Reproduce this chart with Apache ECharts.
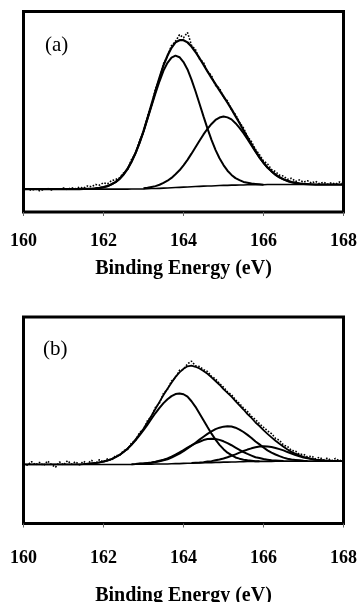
<!DOCTYPE html>
<html><head><meta charset="utf-8">
<script src="https://cdn.jsdelivr.net/npm/echarts@6/dist/echarts.min.js"></script>
<style>html,body{margin:0;padding:0;background:#fff}#c{width:360px;height:602px}</style>
</head><body><div id="c"></div>
<script>
// Binding energy grid (eV)
const energy = [
160.0,160.1,160.2,160.3,160.4,160.5,160.6,160.7,160.8,160.9,
161.0,161.1,161.2,161.3,161.4,161.5,161.6,161.7,161.8,161.9,
162.0,162.1,162.2,162.3,162.4,162.5,162.6,162.7,162.8,162.9,
163.0,163.1,163.2,163.3,163.4,163.5,163.6,163.7,163.8,163.9,
164.0,164.1,164.2,164.3,164.4,164.5,164.6,164.7,164.8,164.9,
165.0,165.1,165.2,165.3,165.4,165.5,165.6,165.7,165.8,165.9,
166.0,166.1,166.2,166.3,166.4,166.5,166.6,166.7,166.8,166.9,
167.0,167.1,167.2,167.3,167.4,167.5,167.6,167.7,167.8,167.9,
168.0];
const xTicks = [160, 162, 164, 166, 168];
const axisTitle = 'Binding Energy (eV)';
const panelLabels = ['(a)', '(b)'];

// ---------- Panel (a) ----------
const bgA = [
11.4,11.4,11.4,11.4,11.4,11.4,11.4,11.4,11.4,11.4,
11.4,11.4,11.4,11.4,11.4,11.4,11.4,11.4,11.4,11.4,
11.4,11.4,11.4,11.4,11.4,11.4,11.4,11.5,11.5,11.5,
11.5,11.6,11.7,11.7,11.8,11.9,12.0,12.1,12.2,12.3,
12.4,12.5,12.6,12.7,12.8,12.9,13.0,13.0,13.1,13.2,
13.3,13.3,13.4,13.4,13.5,13.5,13.6,13.6,13.6,13.6,
13.6,13.7,13.7,13.7,13.7,13.7,13.7,13.7,13.7,13.7,
13.7,13.7,13.7,13.7,13.7,13.7,13.7,13.7,13.7,13.7,
13.7];
const peak1A = [
null,null,null,null,null,null,null,null,null,null,
null,null,null,null,null,null,null,null,11.8,12.0,
12.4,12.9,13.8,14.9,16.5,18.7,21.5,25.1,29.4,34.5,
40.1,46.4,52.9,59.2,65.2,70.5,74.4,77.0,78.0,77.2,
74.8,71.1,66.0,60.2,54.0,47.7,41.6,36.0,31.0,26.8,
23.4,20.6,18.5,16.9,15.9,15.0,14.6,14.2,14.0,13.8,
13.6,null,null,null,null,null,null,null,null,null,
null,null,null,null,null,null,null,null,null,null,
null];
const peak2A = [
null,null,null,null,null,null,null,null,null,null,
null,null,null,null,null,null,null,null,null,null,
null,null,null,null,null,null,null,null,null,null,
11.8,12.1,12.5,12.9,13.6,14.5,15.6,17.0,18.8,20.8,
23.3,26.0,29.1,32.3,35.5,38.7,41.5,43.9,45.9,47.1,
47.6,47.2,46.2,44.3,42.0,39.3,36.3,33.2,30.1,27.1,
24.5,22.2,20.3,18.6,17.3,16.3,15.5,14.9,14.5,14.2,
14.0,null,null,null,null,null,null,null,null,null,
null];
const envA = [
11.4,11.4,11.4,11.4,11.4,11.4,11.4,11.4,11.4,11.4,
11.4,11.4,11.4,11.4,11.4,11.5,11.5,11.6,11.8,12.0,
12.4,12.9,13.8,14.9,16.5,18.7,21.5,25.1,29.4,34.5,
40.4,46.9,53.7,60.4,67.0,73.1,78.0,81.9,84.6,85.7,
85.7,84.6,82.5,79.8,76.7,73.5,70.1,66.9,63.8,60.7,
57.7,54.5,51.3,47.8,44.4,40.8,37.3,33.8,30.5,27.3,
24.6,22.2,20.3,18.6,17.3,16.3,15.5,14.9,14.5,14.2,
14.0,13.9,13.8,13.7,13.7,13.7,13.7,13.7,13.7,13.7,
13.7];
const dataA = [
11.0,11.6,10.8,11.5,10.6,11.2,11.8,11.0,11.7,11.3,
12.0,11.2,12.1,11.6,12.4,11.9,13.0,12.6,13.7,13.4,
14.6,14.0,15.6,16.2,17.1,19.4,21.0,26.2,29.0,35.6,
39.6,47.8,53.1,61.5,66.4,74.0,77.6,83.0,85.1,88.4,
86.9,89.5,83.2,81.0,76.3,74.6,70.0,68.1,63.2,61.8,
57.2,55.4,50.9,48.6,44.8,41.9,37.6,35.1,31.2,28.6,
25.5,24.0,21.2,20.1,18.4,17.9,16.3,16.8,15.2,16.0,
14.9,15.6,14.4,15.3,14.1,14.9,13.8,14.6,13.9,15.0,
14.0];

// ---------- Panel (b) ----------
const bgB = [
28.6,28.6,28.6,28.6,28.6,28.6,28.6,28.6,28.6,28.6,
28.6,28.6,28.6,28.6,28.6,28.6,28.6,28.6,28.6,28.6,
28.6,28.6,28.6,28.6,28.6,28.6,28.6,28.6,28.7,28.7,
28.7,28.7,28.7,28.8,28.8,28.8,28.8,28.9,29.0,29.0,
29.1,29.2,29.2,29.3,29.3,29.4,29.5,29.5,29.6,29.6,
29.7,29.7,29.8,29.8,29.9,29.9,30.0,30.0,30.0,30.1,
30.1,30.1,30.1,30.2,30.2,30.2,30.2,30.2,30.2,30.2,
30.2,30.2,30.2,30.2,30.2,30.2,30.2,30.2,30.2,30.2,
30.2];
const peak1B = [
null,null,null,null,null,null,null,null,null,null,
null,null,null,null,null,28.8,28.9,29.1,29.3,29.6,
30.0,30.5,31.2,32.1,33.2,34.6,36.2,38.1,40.3,42.7,
45.2,47.9,50.7,53.5,56.0,58.3,60.2,61.7,62.7,63.0,
62.6,61.4,59.2,56.5,53.3,50.0,46.7,43.5,40.6,38.1,
36.0,34.3,33.1,32.0,31.4,30.9,30.6,30.4,30.2,30.2,
null,null,null,null,null,null,null,null,null,null,
null,null,null,null,null,null,null,null,null,null,
null];
const peak2B = [
null,null,null,null,null,null,null,null,null,null,
null,null,null,null,null,null,null,null,null,null,
null,null,null,null,null,null,null,null,null,28.9,
29.0,29.2,29.4,29.8,30.1,30.6,31.1,31.9,32.9,33.8,
35.0,36.4,37.7,39.1,40.6,42.0,43.4,44.6,45.7,46.4,
46.9,47.1,47.0,46.4,45.5,44.3,42.9,41.4,39.7,38.3,
36.8,35.4,34.3,33.4,32.6,31.9,31.4,31.0,30.8,30.6,
30.4,30.3,null,null,null,null,null,null,null,null,
null];
const peak3B = [
null,null,null,null,null,null,null,null,null,null,
null,null,null,null,null,null,null,null,null,null,
null,null,null,null,null,null,null,28.7,28.8,29.0,
29.1,29.3,29.5,29.9,30.4,30.9,31.5,32.4,33.4,34.4,
35.5,36.7,37.8,38.8,39.6,40.4,40.9,41.0,40.9,40.5,
39.8,38.9,37.9,36.8,35.7,34.6,33.7,32.9,32.1,31.7,
31.2,30.9,30.6,30.5,30.4,30.3,null,null,null,null,
null,null,null,null,null,null,null,null,null,null,
null];
const peak4B = [
null,null,null,null,null,null,null,null,null,null,
null,null,null,null,null,null,null,null,null,null,
null,null,null,null,null,null,null,null,null,null,
null,null,null,null,null,null,null,null,null,null,
null,null,29.3,29.4,29.5,29.7,30.0,30.2,30.6,31.0,
31.5,32.1,32.8,33.5,34.3,35.1,35.8,36.4,36.9,37.3,
37.4,37.3,37.0,36.6,36.0,35.4,34.6,33.9,33.2,32.6,
32.0,31.6,31.2,30.9,30.7,30.5,30.4,30.3,30.3,null,
null];
const envB = [
28.6,28.6,28.6,28.6,28.6,28.6,28.6,28.6,28.6,28.6,
28.6,28.6,28.6,28.6,28.6,28.8,28.9,29.1,29.3,29.6,
30.0,30.5,31.2,32.1,33.2,34.6,36.2,38.2,40.6,43.2,
45.9,49.0,52.2,55.6,58.9,62.2,65.2,68.2,71.0,73.2,
74.9,76.1,76.4,75.9,75.1,73.9,72.5,70.8,69.0,67.2,
65.1,63.3,61.4,59.3,57.2,55.2,53.0,51.1,48.9,47.2,
45.2,43.4,41.7,40.1,38.6,37.2,35.8,34.7,33.8,33.0,
32.3,31.8,31.3,30.9,30.7,30.5,30.4,30.3,30.3,30.2,
30.2];
const dataB = [
29.3,28.2,30.0,28.4,29.6,28.0,30.3,28.5,27.2,29.8,
28.3,30.4,28.7,29.9,28.4,30.1,28.9,30.6,29.0,30.9,
29.8,31.3,30.6,32.8,33.0,35.3,35.8,39.0,40.2,44.0,
45.5,49.8,51.9,56.3,58.4,63.0,65.0,68.9,70.6,74.2,
74.6,77.3,78.6,76.4,76.0,74.5,73.6,71.2,70.0,67.8,
66.0,63.7,62.4,59.9,58.1,55.9,54.2,51.9,50.3,48.3,
46.6,44.9,43.5,41.2,40.3,38.0,37.3,35.4,35.0,33.4,
33.6,32.2,32.7,31.3,32.1,30.8,31.7,30.4,31.5,30.3,
31.2];

function pairs(vals) {
  const out = [];
  for (let i = 0; i < energy.length; i++) {
    if (vals[i] !== null) out.push([energy[i], vals[i]]);
  }
  return out;
}

const FONT = '"Liberation Serif", "DejaVu Serif", serif';

function fitLine(vals, idx, w) {
  return {
    type: 'line', xAxisIndex: idx, yAxisIndex: idx, data: pairs(vals),
    symbol: 'none', silent: true,
    lineStyle: { color: '#000', width: w }
  };
}
function rawLine(vals, idx) {
  return {
    type: 'line', xAxisIndex: idx, yAxisIndex: idx, data: pairs(vals),
    symbol: 'none', silent: true, z: 3,
    lineStyle: { color: '#000', width: 1.6, type: [1.6, 1.6] }
  };
}
function xAx(idx, labelMargin, nameGap) {
  return {
    type: 'value', gridIndex: idx, min: 160, max: 168, interval: 2,
    axisLine: { show: false },
    axisTick: { show: true, length: 4, lineStyle: { color: '#666', width: 1 } },
    splitLine: { show: false },
    axisLabel: {
      margin: labelMargin, color: '#000', fontFamily: FONT, fontWeight: 'bold', fontSize: 18,
      customValues: xTicks
    },
    name: axisTitle, nameLocation: 'middle', nameGap: nameGap,
    nameTextStyle: { color: '#000', fontFamily: FONT, fontWeight: 'bold', fontSize: 20 }
  };
}
function yAx(idx) {
  return { type: 'value', gridIndex: idx, min: 0, max: 100, show: false };
}

const chart = echarts.init(document.getElementById('c'), null, { renderer: 'canvas' });
chart.setOption({
  animation: false,
  backgroundColor: '#fff',
  grid: [
    { left: 23.5, top: 11.5, width: 320, height: 200.5, show: true, borderColor: '#000', borderWidth: 3,
      backgroundColor: 'transparent', containLabel: false, outerBoundsMode: 'none' },
    { left: 23.5, top: 317, width: 320, height: 206.5, show: true, borderColor: '#000', borderWidth: 3,
      backgroundColor: 'transparent', containLabel: false, outerBoundsMode: 'none' }
  ],
  xAxis: [xAx(0, 20, 47), xAx(1, 26, 62)],
  yAxis: [yAx(0), yAx(1)],
  graphic: [
    { type: 'text', left: 45, top: 35, style: { text: panelLabels[0], font: '21px ' + FONT, fill: '#000' } },
    { type: 'text', left: 43, top: 339, style: { text: panelLabels[1], font: '21px ' + FONT, fill: '#000' } }
  ],
  series: [
    fitLine(bgA, 0, 1.6),
    fitLine(peak1A, 0, 2),
    fitLine(peak2A, 0, 2),
    fitLine(envA, 0, 2.2),
    rawLine(dataA, 0),
    fitLine(bgB, 1, 1.6),
    fitLine(peak1B, 1, 2),
    fitLine(peak2B, 1, 2),
    fitLine(peak3B, 1, 2),
    fitLine(peak4B, 1, 2),
    fitLine(envB, 1, 1.8),
    rawLine(dataB, 1)
  ]
});
</script>
</body></html>
